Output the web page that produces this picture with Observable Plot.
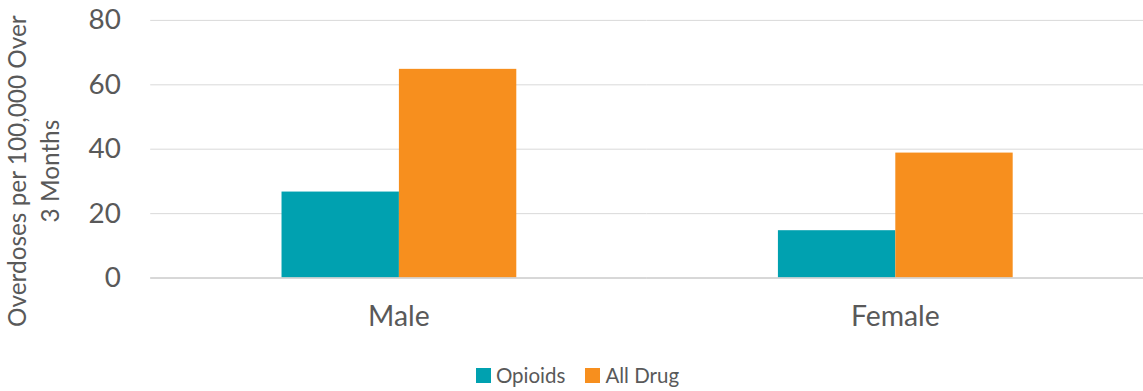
<!DOCTYPE html>
<html>
<head>
<meta charset="utf-8">
<script src="https://cdn.jsdelivr.net/npm/d3@7"></script>
<script src="https://cdn.jsdelivr.net/npm/@observablehq/plot@0.6"></script>
<style>
  html, body { margin: 0; padding: 0; background: #fff; overflow: hidden; }
  body { width: 1143px; height: 391px; font-family: Lato, "Open Sans", sans-serif; color: #595959; }
  #legend { display: flex; justify-content: center; align-items: center; gap: 20px; font-size: 20.5px; margin-top: 15px; padding-left: 12px; }
  #legend .item { display: flex; align-items: center; gap: 5px; }
  #legend .sw { width: 15px; height: 15px; display: inline-block; }
</style>
</head>
<body>
<div id="chart"></div>
<div id="legend"></div>
<script>
const categories = ["Male", "Female"];
const seriesNames = ["Opioids", "All Drug"];
const opioids = [26.7, 14.7];
const allDrug = [64.8, 38.8];
const seriesColors = ["#00A1B0", "#F78F1E"];
const yTicks = [0, 20, 40, 60, 80];
const yLabel = "Overdoses per 100,000 Over\n3 Months";

const rows = [];
categories.forEach((c, i) => {
  rows.push({sex: c, series: seriesNames[0], value: opioids[i]});
  rows.push({sex: c, series: seriesNames[1], value: allDrug[i]});
});

const chart = Plot.plot({
  width: 1149,
  height: 350,
  marginLeft: 150,
  marginRight: 0,
  marginTop: 20,
  marginBottom: 71,
  style: {fontFamily: "Lato, 'Open Sans', sans-serif", color: "#595959", background: "#fff"},
  fx: {domain: categories, padding: 0, label: null},
  x: {domain: seriesNames, paddingInner: 0, paddingOuter: 1.1, axis: null},
  y: {domain: [0, 80], ticks: yTicks},
  color: {domain: seriesNames, range: seriesColors},
  marks: [
    Plot.gridY(yTicks, {stroke: "#d9d9d9", strokeOpacity: 1, strokeWidth: 1}),
    Plot.barY(rows, {fx: "sex", x: "series", y: "value", fill: "series", inset: 0}),
    Plot.ruleY([0], {stroke: "#d0d0d0", strokeWidth: 1.5}),
    Plot.axisY(yTicks, {tickSize: 0, tickPadding: 30, fontSize: 28, label: yLabel, labelAnchor: "center", labelArrow: "none", labelOffset: 132}),
    Plot.axisFx({anchor: "bottom", tickSize: 0, tickPadding: 28, fontSize: 28.5, label: null})
  ]
});
d3.select(chart).selectAll("text")
  .filter(function() { return this.textContent.includes("Overdoses"); })
  .each(function() {
    d3.select(this).attr("font-size", 24.5).style("font-size", "24.5px");
    const tspans = d3.select(this).selectAll("tspan");
    tspans.attr("x", -22);
    tspans.filter((d, i) => i > 0).attr("dy", "1.38em");
    tspans.filter((d, i) => i === 0).attr("dy", "-0.45em");
  });
document.getElementById("chart").appendChild(chart);

const legend = document.getElementById("legend");
seriesNames.forEach((s, i) => {
  const item = document.createElement("span");
  item.className = "item";
  const sw = document.createElement("span");
  sw.className = "sw";
  sw.style.background = seriesColors[i];
  const t = document.createElement("span");
  t.textContent = s;
  item.appendChild(sw);
  item.appendChild(t);
  legend.appendChild(item);
});
</script>
</body>
</html>
